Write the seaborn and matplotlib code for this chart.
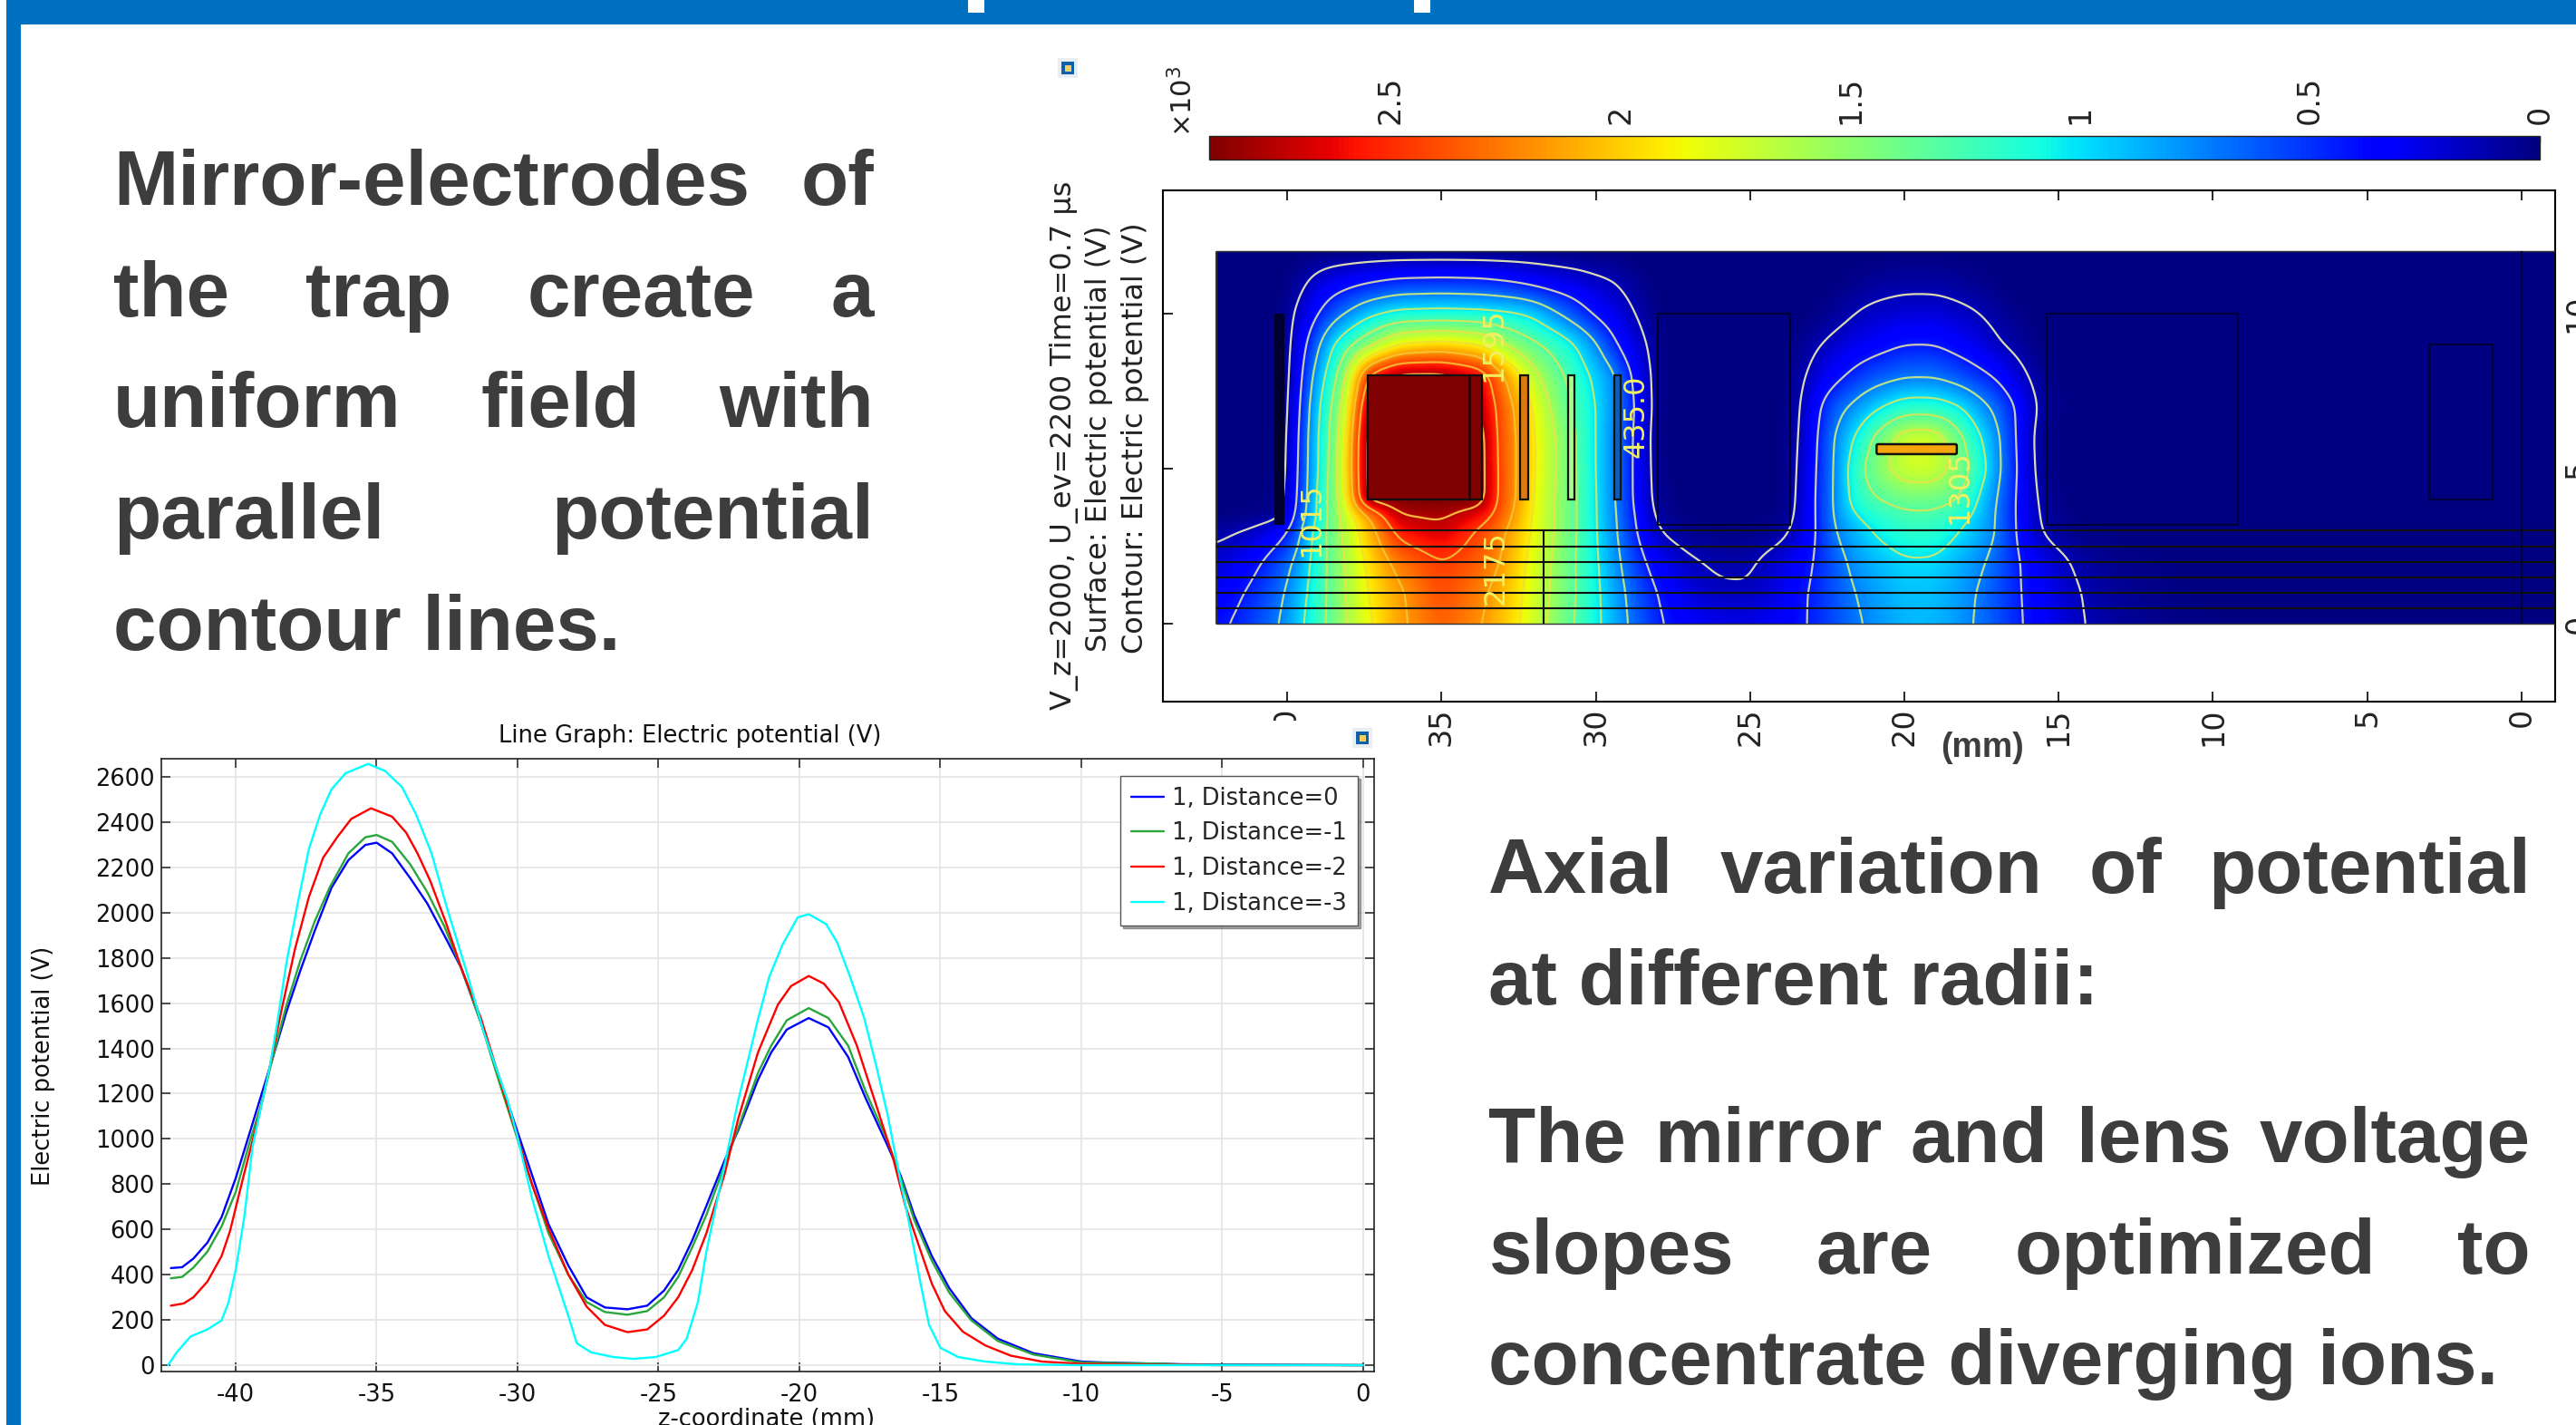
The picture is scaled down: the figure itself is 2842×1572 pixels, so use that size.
import matplotlib

matplotlib.use("Agg")
import matplotlib.pyplot as plt
import numpy as np
import pandas as pd
import seaborn as sns
from matplotlib.patches import FancyBboxPatch, Rectangle

W, H = 2842, 1572
BLUE = "#0070c0"
INK = "#3d3d3d"

# line graph
z_r0 = [-42.3, -41.9, -41.5, -41.0, -40.5, -40.0, -39.5, -39.1, -38.7, -38.2, -37.7, -37.2, -36.6, -36.0, -35.4, -35.0, -34.45, -33.8, -33.2, -32.6, -32.0, -31.3, -30.7, -30.1, -29.5, -28.9, -28.2, -27.55, -26.9, -26.1, -25.4, -24.8, -24.3, -23.8, -23.3, -22.65, -22.17, -21.47, -21.0, -20.45, -19.67, -18.97, -18.27, -17.65, -16.86, -16.4, -15.93, -15.3, -14.68, -13.9, -12.96, -11.7, -10.0, -9.2, -6.4, 0.0]
v_r0 = [429, 433, 471, 542, 654, 826, 1028, 1190, 1352, 1561, 1746, 1918, 2110, 2232, 2299, 2309, 2262, 2151, 2040, 1900, 1756, 1514, 1291, 1068, 846, 623, 441, 300, 255, 247, 263, 330, 421, 552, 704, 906, 1038, 1261, 1382, 1483, 1534, 1493, 1362, 1180, 967, 836, 664, 482, 340, 208, 117, 53, 16, 12, 4, 0]
z_r1 = [-42.3, -41.9, -41.5, -41.0, -40.5, -40.0, -39.5, -39.1, -38.7, -38.2, -37.7, -37.2, -36.67, -36.0, -35.4, -35.0, -34.45, -33.8, -33.2, -32.6, -32.0, -31.3, -30.7, -30.1, -29.5, -28.9, -28.2, -27.55, -26.9, -26.1, -25.4, -24.8, -24.3, -23.8, -23.3, -22.65, -22.17, -21.47, -21.0, -20.45, -19.67, -18.97, -18.27, -17.65, -16.86, -16.4, -15.93, -15.3, -14.68, -13.9, -12.96, -11.7, -10.0, -7.0, -6.4, 0.0]
v_r1 = [384, 390, 431, 502, 613, 765, 987, 1149, 1352, 1590, 1790, 1960, 2110, 2262, 2333, 2343, 2313, 2212, 2090, 1940, 1756, 1514, 1271, 1038, 805, 583, 401, 279, 235, 223, 239, 300, 390, 522, 664, 886, 1048, 1291, 1412, 1524, 1578, 1534, 1412, 1210, 987, 826, 643, 461, 320, 198, 107, 47, 12, 6, 2, 0]
z_r2 = [-42.3, -41.84, -41.5, -41.0, -40.5, -40.2, -39.7, -39.2, -38.8, -38.4, -37.9, -37.4, -36.9, -36.4, -35.9, -35.2, -34.45, -33.95, -33.55, -33.1, -32.55, -32.0, -31.3, -30.7, -30.1, -29.5, -28.9, -28.2, -27.55, -26.9, -26.1, -25.4, -24.8, -24.3, -23.8, -23.3, -22.65, -22.17, -21.47, -20.76, -20.3, -19.67, -19.13, -18.6, -17.96, -17.33, -16.7, -16.24, -15.8, -15.3, -14.84, -14.2, -13.4, -12.5, -11.4, -10.0, -7.0, -5.0, 0.0]
v_r2 = [263, 273, 300, 370, 482, 593, 846, 1089, 1311, 1554, 1837, 2070, 2242, 2333, 2414, 2461, 2424, 2353, 2262, 2141, 1959, 1756, 1534, 1291, 1048, 805, 603, 401, 259, 178, 146, 158, 219, 300, 421, 583, 846, 1089, 1382, 1594, 1675, 1720, 1686, 1605, 1412, 1170, 927, 704, 542, 360, 239, 148, 87, 42, 16, 6, 2, 0, 0]
z_r3 = [-42.4, -42.09, -41.6, -41.0, -40.5, -40.25, -40.0, -39.7, -39.4, -39.05, -38.8, -38.55, -38.2, -37.8, -37.4, -37.0, -36.6, -36.1, -35.3, -34.7, -34.1, -33.6, -33.05, -32.5, -31.8, -31.2, -30.75, -30.35, -30.0, -29.5, -28.9, -28.2, -27.9, -27.4, -26.6, -25.9, -25.1, -24.3, -24.0, -23.6, -23.3, -22.65, -22.17, -21.5, -21.07, -20.6, -20.06, -19.67, -19.05, -18.66, -18.2, -17.7, -17.25, -16.86, -16.4, -16.1, -15.7, -15.4, -15.0, -14.37, -13.4, -12.3, -10.0, 0.0]
v_r3 = [0, 57, 127, 158, 198, 279, 420, 650, 967, 1170, 1311, 1493, 1777, 2040, 2282, 2434, 2545, 2616, 2657, 2626, 2555, 2434, 2262, 2019, 1736, 1473, 1311, 1170, 1008, 745, 482, 219, 97, 57, 36, 28, 36, 67, 117, 279, 502, 886, 1170, 1513, 1716, 1858, 1979, 1993, 1949, 1868, 1716, 1534, 1311, 1100, 805, 623, 360, 178, 77, 36, 16, 4, 0, 0]

series_names = ["1, Distance=0", "1, Distance=-1", "1, Distance=-2", "1, Distance=-3"]
series_colors = ["#0000ff", "#2aa63c", "#ff0000", "#00ffff"]
line_xticks = [-40, -35, -30, -25, -20, -15, -10, -5, 0]
line_yticks = list(range(0, 2601, 200))

# surface plot, estimated on a coarse grid (axial mm, radial mm, volts)
z_grid = [42.3, 41.8, 41, 40.2, 39.9, 39.6, 39.3, 39, 38.6, 38.2, 37.4, 36.4, 35,
          33.7, 33.2, 32.6, 32, 31.4, 30.7, 30, 29.4, 28.8, 28.3, 27.9,
          27, 26, 25, 24,
          23.4, 22.8, 22.2, 21.6, 21, 20, 19, 18.2, 17.6, 17, 16.4, 15.8, 15.3,
          14.2, 13, 11, 5, -1.1]
r_grid = [0, 1, 2, 3, 3.5, 4, 5, 6, 7, 8, 9, 10, 11, 12]
field = [
    [400, 437, 570, 730, 850, 960, 1075, 1195, 1370, 1550, 1840, 2130, 2340,
     2185, 2070, 1930, 1740, 1530, 1305, 1075, 870, 670, 550, 445,
     330, 270, 265, 330,
     395, 490, 590, 690, 770, 885, 880, 790, 700, 590, 480, 370, 290,
     145, 70, 15, 1, 0],
    [310, 370, 500, 680, 790, 910, 1035, 1170, 1365, 1560, 1885, 2130, 2420,
     2230, 2095, 1960, 1770, 1560, 1325, 1070, 850, 640, 510, 405,
     240, 175, 165, 265,
     400, 480, 610, 725, 810, 915, 905, 820, 710, 590, 470, 360, 290,
     130, 60, 12, 1, 0],
    [200, 265, 390, 590, 690, 825, 990, 1150, 1370, 1570, 1930, 2260, 2465,
     2330, 2210, 2000, 1800, 1575, 1325, 1055, 800, 580, 405, 310,
     175, 110, 115, 250,
     340, 465, 640, 790, 880, 990, 985, 870, 775, 645, 470, 330, 230,
     90, 35, 6, 0, 0],
    [100, 120, 190, 350, 435, 680, 940, 1135, 1390, 1625, 2030, 2560, 2700,
     2410, 2280, 2060, 1850, 1615, 1345, 1030, 770, 490, 270, 130,
     40, 20, 20, 70,
     230, 455, 750, 870, 1035, 1170, 1170, 1015, 880, 725, 435, 200, 90,
     15, 5, 1, 0, 0],
    [10, 12, 25, 75, 290, 580, 780, 1075, 1390, 1660, 2140, 2755, 2800,
     2590, 2400, 2125, 1840, 1615, 1345, 1030, 760, 470, 220, 60,
     5, 3, 3, 15,
     190, 470, 780, 1015, 1130, 1260, 1260, 1120, 950, 700, 435, 190, 60,
     2, 1, 0, 0, 0],
    [3, 3, 8, 40, 255, 510, 760, 1085, 1400, 1680, 2900, 2900, 2900,
     2900, 2440, 2185, 1880, 1615, 1345, 1030, 740, 440, 170, 40,
     1, 0, 0, 3,
     170, 480, 780, 1130, 1290, 1400, 1400, 1310, 1000, 725, 435, 170, 40,
     0, 0, 0, 0, 0],
    [0, 1, 2, 20, 200, 470, 780, 1000, 1340, 1775, 2900, 2900, 2900,
     2900, 2440, 2190, 1900, 1640, 1340, 1015, 735, 440, 160, 20,
     0, 0, 0, 5,
     150, 465, 770, 1180, 1450, 1750, 1750, 1450, 1200, 790, 470, 120, 20,
     0, 0, 0, 0, 0],
    [0, 0, 2, 18, 180, 435, 780, 1000, 1320, 1740, 2900, 2900, 2900,
     2900, 2420, 2190, 1900, 1640, 1330, 1015, 730, 450, 150, 10,
     0, 0, 0, 2,
     130, 440, 770, 1030, 1330, 1760, 1760, 1380, 1060, 790, 440, 110, 10,
     0, 0, 0, 0, 0],
    [0, 0, 1, 15, 145, 400, 725, 975, 1270, 1610, 2800, 2900, 2900,
     2755, 2420, 2150, 1860, 1550, 1270, 1015, 780, 470, 180, 15,
     0, 0, 0, 2,
     110, 400, 640, 780, 950, 1150, 1150, 1030, 830, 660, 435, 160, 40,
     0, 0, 0, 0, 0],
    [0, 0, 1, 15, 125, 330, 640, 870, 1120, 1450, 2530, 2850, 2850,
     2640, 2300, 2000, 1660, 1440, 1200, 950, 770, 400, 170, 20,
     0, 0, 0, 1,
     90, 240, 370, 500, 590, 690, 690, 590, 500, 400, 230, 100, 20,
     0, 0, 0, 0, 0],
    [0, 0, 1, 10, 115, 280, 490, 680, 970, 1160, 1500, 1900, 1990,
     1880, 1690, 1500, 1360, 1230, 1040, 760, 470, 250, 140, 15,
     0, 0, 0, 0,
     40, 130, 210, 280, 340, 430, 430, 340, 270, 170, 90, 30, 5,
     0, 0, 0, 0, 0],
    [0, 0, 0, 5, 100, 200, 310, 420, 590, 700, 940, 1090, 1110,
     1090, 1070, 1040, 960, 780, 590, 390, 270, 160, 60, 5,
     0, 0, 0, 0,
     3, 20, 70, 145, 190, 230, 230, 190, 150, 80, 30, 8, 1,
     0, 0, 0, 0, 0],
    [0, 0, 0, 3, 30, 90, 155, 220, 290, 340, 420, 500, 520,
     500, 470, 430, 370, 310, 260, 190, 150, 70, 25, 5,
     0, 0, 0, 0,
     0, 3, 12, 40, 70, 95, 95, 70, 40, 15, 5, 1, 0,
     0, 0, 0, 0, 0],
    [0, 0, 0, 0, 0, 0, 0, 0, 0, 0, 5, 5, 5,
     5, 5, 5, 5, 5, 0, 0, 0, 0, 0, 0,
     0, 0, 0, 0,
     0, 0, 0, 0, 0, 0, 0, 0, 0, 0, 0, 0, 0,
     0, 0, 0, 0, 0],
]
contour_levels = [145, 435, 725, 1015, 1305, 1595, 1885, 2175, 2465, 2755]
contour_colors = ["#d9d9b4", "#c8c8b4", "#b8e08c", "#b8e878", "#c8e860", "#e0e848", "#f0e030", "#f5c030", "#f5b030", "#f8b840"]
contour_labels = ["1015", "435.0", "2175", "1305", "1595"]
label_z = [39.2, 28.7, 33.25, 18.2, 33.3]
label_r = [3.36, 6.7, 1.8, 4.4, 9.0]
field_xticks = [40, 35, 30, 25, 20, 15, 10, 5, 0]
field_yticks = [0, 5, 10]
bar_ticks = [0, 500, 1000, 1500, 2000, 2500]
bar_labels = ["0", "0.5", "1", "1.5", "2", "2.5"]

# electrodes: z from, z to, r from, r to, fill
electrodes = [
    (37.4, 33.7, 4.0, 8.0, "#7f0000"),
    (32.45, 32.2, 4.0, 8.0, "#d87a10"),
    (30.9, 30.7, 4.0, 8.0, "#a6ff8a"),
    (29.4, 29.2, 4.0, 8.0, "#0a60b8"),
    (28.0, 23.7, 3.2, 10.0, "none"),
    (15.4, 9.2, 3.2, 10.0, "none"),
    (3.0, 0.94, 4.0, 9.0, "none"),
]
mesh_r = [3.0, 2.5, 2.0, 1.5, 1.0, 0.5]
mesh_from = [40.1, 42.3, 42.3, 42.3, 42.3, 42.3]

left_lines = [
    "Mirror-electrodes of",
    "the trap create a",
    "uniform field with",
    "parallel potential",
]
left_last = "contour lines."
left_base = [226, 349, 471, 594, 717]
right_lines = [
    "Axial variation of potential",
    "The mirror and lens voltage",
    "slopes are optimized to",
]
right_free = ["at different radii:", "concentrate diverging ions."]
right_base = [985, 1282, 1405]
right_free_base = [1108, 1527]

sns.set_theme(style="whitegrid")
plt.rcParams["axes.unicode_minus"] = False
plt.rcParams["font.family"] = "DejaVu Sans"

fig = plt.figure(figsize=(W / 100, H / 100), dpi=100, facecolor="white")


def px_axes(x0, y0, x1, y1, **kw):
    return fig.add_axes([x0 / W, 1 - y1 / H, (x1 - x0) / W, (y1 - y0) / H], **kw)


def smooth(values, n, axis):
    # soft window along one axis, edges held
    win = np.hanning(n)
    win = win / win.sum()
    pad = n // 2
    return np.apply_along_axis(
        lambda a: np.convolve(np.pad(a, pad, mode="edge"), win, mode="valid"), axis, values
    )


# frame of the slide
bg = px_axes(0, 0, W, H, zorder=0)
bg.set_xlim(0, W)
bg.set_ylim(H, 0)
bg.axis("off")
bg.add_patch(Rectangle((7, 0), W - 7, 27, color=BLUE, lw=0))
bg.add_patch(Rectangle((7, 0), 16, H, color=BLUE, lw=0))
bg.add_patch(Rectangle((1068, 0), 18, 14, color="white", lw=0))
bg.add_patch(Rectangle((1560, 0), 18, 14, color="white", lw=0))

# surface + contour plot; the estimated grid is resampled for drawing only,
# so the contours come out round instead of following the coarse cells
ax_f = px_axes(1282.5, 210.4, 2819, 773.7, zorder=1)
z_coarse = np.array(z_grid)[::-1]
v_coarse = np.array(field, dtype=float)[:, ::-1]
z_fine = np.arange(-1.1, 42.31, 0.1)
r_fine = np.arange(0, 12.01, 0.05)
v_fine = np.array([np.interp(z_fine, z_coarse, row) for row in v_coarse])
v_fine = np.array([np.interp(r_fine, r_grid, col) for col in v_fine.T]).T
v_fine = smooth(smooth(v_fine, 15, 1), 23, 0)
Z, R = np.meshgrid(z_fine, r_fine)
mesh = ax_f.pcolormesh(Z, R, v_fine, cmap="jet", vmin=0, vmax=2896, shading="gouraud", zorder=1)
ax_f.contour(Z, R, v_fine, levels=contour_levels, colors=contour_colors, linewidths=1.6, zorder=2)
ax_f.set_xlim(44.04, -1.09)
ax_f.set_ylim(-2.5, 13.96)
ax_f.grid(False)
ax_f.add_patch(Rectangle((-1.1, 0), 43.4, 12, fill=False, ec="#333333", lw=1, zorder=3))
ax_f.add_patch(Rectangle((40.08, 3.2), 0.32, 6.8, color="#000030", lw=0, zorder=3))
for z0, z1, r0, r1, fill in electrodes:
    edge = "#000038" if fill == "none" else "#101010"
    ax_f.add_patch(Rectangle((z1, r0), z0 - z1, r1 - r0, fc=fill, ec=edge, lw=1.6, zorder=4))
ax_f.vlines(34.1, 4, 8, color="#200000", lw=1.8, zorder=5)
ax_f.add_patch(FancyBboxPatch((18.35, 5.52), 2.5, 0.22, boxstyle="round,pad=0.05", fc="#f5a40c", ec="#101010", lw=1.8, zorder=4))
for r, z0 in zip(mesh_r, mesh_from):
    ax_f.hlines(r, -1.1, z0, color="#101010", lw=1.5, zorder=4)
ax_f.vlines(31.7, 0, 3, color="#101010", lw=1.5, zorder=4)
ax_f.vlines(0, 0, 12, color="#000038", lw=1.5, zorder=4)
for text, z, r in zip(contour_labels, label_z, label_r):
    ax_f.text(z, r, text, rotation=90, color="#f2f060", fontsize=23, ha="center", va="center", zorder=6)
ax_f.set_xticks(field_xticks)
ax_f.set_yticks(field_yticks)
ax_f.tick_params(axis="x", direction="in", top=True, bottom=True, length=8, width=1.2, pad=5, labelsize=24, labelrotation=90, color="black", labelcolor="#222222")
ax_f.tick_params(axis="y", direction="in", left=True, right=False, labelleft=False, labelright=True, length=8, width=1.2, pad=6, labelsize=24, labelrotation=90, color="black", labelcolor="#222222")
for lab in ax_f.get_yticklabels():
    lab.set_va("center")
for spine in ax_f.spines.values():
    spine.set_color("black")
    spine.set_linewidth(1.5)

cax = px_axes(1333.5, 149.7, 2802, 175.7, zorder=1)
cbar = fig.colorbar(mesh, cax=cax, orientation="horizontal")
cax.invert_xaxis()
cax.xaxis.set_ticks_position("top")
cbar.set_ticks(bar_ticks, labels=bar_labels)
cax.tick_params(axis="x", direction="in", length=5, width=1, pad=9, labelsize=24, labelrotation=90, labelcolor="#222222")
cbar.outline.set_edgecolor("#222222")
cbar.outline.set_linewidth(1)

# white paper of the line graph hides the lower part of the "40" label
cover = px_axes(25, 795, 1516, 836, zorder=2)
cover.set_facecolor("white")
cover.grid(False)
cover.set_xticks([])
cover.set_yticks([])
for spine in cover.spines.values():
    spine.set_visible(False)

# line graph
ax_l = px_axes(177.6, 837, 1516, 1513, zorder=3)
curves = pd.concat(
    [
        pd.DataFrame({"z": zs, "V": vs, "series": name})
        for zs, vs, name in zip([z_r0, z_r1, z_r2, z_r3], [v_r0, v_r1, v_r2, v_r3], series_names)
    ]
)
sns.lineplot(
    data=curves,
    x="z",
    y="V",
    hue="series",
    hue_order=series_names,
    palette=series_colors,
    estimator=None,
    sort=False,
    linewidth=1.7,
    ax=ax_l,
)
ax_l.set_xlim(-42.65, 0.39)
ax_l.set_ylim(-28, 2680)
ax_l.set_xticks(line_xticks)
ax_l.set_yticks(line_yticks)
ax_l.set_xlabel("")
ax_l.set_ylabel("")
ax_l.grid(True, color="#e4e4e4", lw=1.2)
ax_l.tick_params(direction="in", top=True, right=True, bottom=True, left=True, length=7, width=1.1, labelsize=18.5, color="#222222", labelcolor="#111111")
ax_l.tick_params(axis="x", pad=9)
ax_l.tick_params(axis="y", pad=5)
for spine in ax_l.spines.values():
    spine.set_color("#222222")
    spine.set_linewidth(1.2)
legend = ax_l.legend(
    title=None,
    loc="upper right",
    bbox_to_anchor=(0.9865, 0.972),
    borderaxespad=0,
    fontsize=18.5,
    frameon=True,
    framealpha=1,
    fancybox=False,
    shadow=True,
    edgecolor="#555555",
    borderpad=0.46,
    labelspacing=0.49,
    handlelength=1.4,
    handletextpad=0.35,
)

# texts on top, in slide pixels
top = px_axes(0, 0, W, H, zorder=4)
top.set_xlim(0, W)
top.set_ylim(H, 0)
top.axis("off")
top.patch.set_alpha(0)
top.text(761, 812, "Line Graph: Electric potential (V)", fontsize=18.5, ha="center", va="center", color="#111111")
top.text(48, 1176, "Electric potential (V)", fontsize=18.5, rotation=90, ha="center", va="center", color="#111111")
top.text(846, 1566, "z-coordinate (mm)", fontsize=18.5, ha="center", va="center", color="#111111")
top.text(1173.6, 491, "V_z=2000, U_ev=2200 Time=0.7 µs", fontsize=23, rotation=90, ha="center", va="center", color="#222222")
top.text(1213, 484, "Surface: Electric potential (V)", fontsize=23, rotation=90, ha="center", va="center", color="#222222")
top.text(1253, 483, "Contour: Electric potential (V)", fontsize=23, rotation=90, ha="center", va="center", color="#222222")
top.text(1305, 151, "×10$^{3}$", fontsize=22, rotation=90, ha="center", va="bottom", color="#222222")
top.text(2187, 825, "(mm)", fontsize=27, family="Liberation Sans", weight="bold", ha="center", va="center", color=INK)
for cx, cy in [(1178, 75), (1503, 814)]:
    top.add_patch(Rectangle((cx - 11, cy - 11), 22, 22, color="#e8eef2", lw=0))
    top.add_patch(Rectangle((cx - 7, cy - 7), 14, 14, color="#1060b0", lw=0))
    top.add_patch(Rectangle((cx - 3, cy - 3), 7, 7, color="#f0d060", lw=0))

renderer = fig.canvas.get_renderer()


def bold(x, y, s):
    return top.text(x, y, s, fontsize=61.5, family="Liberation Sans", weight="bold", color=INK, ha="left", va="baseline")


def justified(line, x0, x1, y):
    # spread the words over the column, like the slide does
    items = [bold(0, y, w) for w in line.split()]
    sizes = [t.get_window_extent(renderer).width for t in items]
    gap = (x1 - x0 - sum(sizes)) / (len(items) - 1)
    x = x0
    for t, size in zip(items, sizes):
        t.set_x(x)
        x += size + gap


for line, y in zip(left_lines, left_base):
    justified(line, 125, 964, y)
bold(125, left_base[4], left_last)
for line, y in zip(right_lines, right_base):
    justified(line, 1642, 2792, y)
for line, y in zip(right_free, right_free_base):
    bold(1642, y, line)

fig.savefig("out.png", dpi=100, facecolor="white")
